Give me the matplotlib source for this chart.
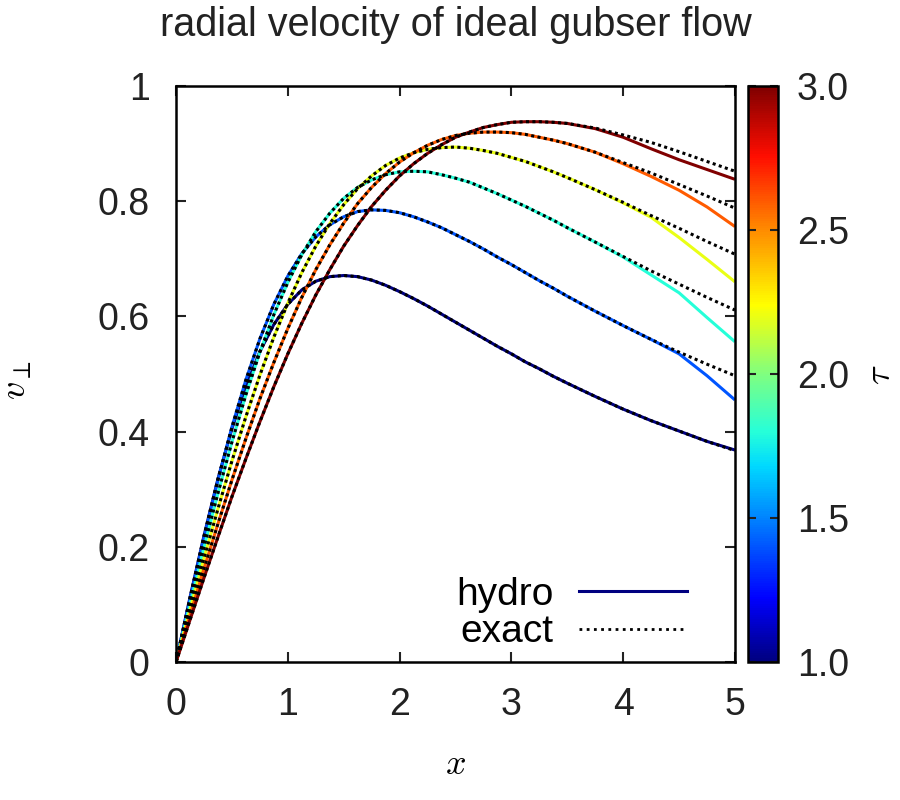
import matplotlib
matplotlib.use("Agg")
import matplotlib.pyplot as plt
from matplotlib.colors import Normalize, LinearSegmentedColormap
from matplotlib.cm import ScalarMappable
from matplotlib.lines import Line2D

plt.rcParams['font.family'] = ['Liberation Sans', 'DejaVu Sans']
plt.rcParams['mathtext.fontset'] = 'cm'

# ---- data ----
x = [0.0, 0.125, 0.25, 0.375, 0.5, 0.625, 0.75, 0.875, 1.0, 1.125, 1.25, 1.375,
     1.5, 1.625, 1.75, 1.875, 2.0, 2.125, 2.25, 2.375, 2.5, 2.625, 2.75, 2.875,
     3.0, 3.125, 3.25, 3.375, 3.5, 3.75, 4.0, 4.25, 4.5, 4.75, 5.0]
taus = [1.0, 1.4, 1.8, 2.2, 2.6, 3.0]

exact_10 = [0, .112, .219, .318, .405, .479, .539, .586, .621, .646, .661, .669,
            .671, .669, .663, .654, .643, .631, .618, .604, .590, .576, .562, .548,
            .535, .521, .509, .496, .484, .461, .439, .419, .401, .383, .367]
exact_14 = [0, .110, .216, .316, .408, .490, .561, .621, .670, .709, .738, .759,
            .773, .782, .785, .784, .780, .773, .764, .754, .742, .730, .717, .703,
            .690, .676, .662, .649, .635, .609, .584, .560, .538, .517, .497]
exact_18 = [0, .101, .199, .293, .382, .464, .538, .603, .659, .707, .747, .779,
            .805, .824, .837, .846, .851, .852, .851, .846, .840, .833, .823, .813,
            .802, .791, .779, .767, .754, .729, .704, .679, .656, .633, .611]
exact_22 = [0, .091, .180, .266, .349, .426, .498, .564, .623, .676, .722, .761,
            .794, .822, .844, .862, .875, .884, .890, .893, .894, .892, .888, .883,
            .876, .869, .860, .851, .841, .820, .798, .775, .753, .730, .708]
exact_26 = [0, .081, .162, .240, .316, .388, .457, .520, .579, .633, .681, .724,
            .762, .796, .824, .848, .868, .884, .897, .907, .914, .918, .920, .920,
            .919, .916, .911, .906, .900, .885, .867, .849, .829, .809, .788]
exact_30 = [0, .073, .146, .217, .287, .353, .417, .478, .535, .588, .637, .681,
            .722, .758, .791, .819, .844, .865, .883, .898, .911, .920, .928, .933,
            .937, .938, .938, .937, .935, .927, .915, .902, .886, .869, .852]

# hydro follows the exact curve except for the last six points (x = 3.75 ... 5.0)
tail_10 = [.461, .439, .419, .401, .383, .368]
tail_14 = [.609, .584, .560, .535, .497, .455]
tail_18 = [.729, .703, .672, .641, .598, .556]
tail_22 = [.820, .797, .772, .737, .699, .660]
tail_26 = [.885, .865, .843, .819, .790, .756]
tail_30 = [.926, .911, .891, .872, .855, .838]

exact = [exact_10, exact_14, exact_18, exact_22, exact_26, exact_30]
tails = [tail_10, tail_14, tail_18, tail_22, tail_26, tail_30]
hydro = [e[:-len(t)] + t for e, t in zip(exact, tails)]

xticks = [0, 1, 2, 3, 4, 5]
xticklabels = ['0', '1', '2', '3', '4', '5']
yticks = [0, 0.2, 0.4, 0.6, 0.8, 1.0]
yticklabels = ['0', '0.2', '0.4', '0.6', '0.8', '1']
cticks = [1.0, 1.5, 2.0, 2.5, 3.0]
cticklabels = ['1.0', '1.5', '2.0', '2.5', '3.0']

# jet-like palette as in the reference
cmap = LinearSegmentedColormap.from_list('jetlike', [
    (0.00, (0.0, 0.0, 0.5)),
    (0.11, (0.0, 0.0, 1.0)),
    (0.34, (0.0, 0.85, 1.0)),
    (0.40, (0.15, 1.0, 0.85)),
    (0.50, (0.5, 1.0, 0.5)),
    (0.62, (1.0, 1.0, 0.0)),
    (0.75, (1.0, 0.55, 0.0)),
    (0.88, (1.0, 0.05, 0.0)),
    (1.00, (0.5, 0.0, 0.0)),
], N=256)
norm = Normalize(vmin=1.0, vmax=3.0)

# ---- figure ----
fig = plt.figure(figsize=(9, 8), dpi=100)
ax = fig.add_axes([0.1956, 0.1725, 0.621, 0.72])

for tau, h in zip(taus, hydro):
    ax.plot(x, h, color=cmap(norm(tau)), lw=2.2, solid_capstyle='butt', zorder=2)
for e in exact:
    ax.plot(x, e, color='black', lw=2.2, linestyle=(0, (1, 1.1)), zorder=3)

ax.set_xlim(0, 5)
ax.set_ylim(0, 1)
ax.set_xticks(xticks)
ax.set_xticklabels(xticklabels)
ax.set_yticks(yticks)
ax.set_yticklabels(yticklabels)
ax.tick_params(direction='in', length=7, width=1.5, top=True, right=True,
               labelsize=27, colors='#222222')
ax.tick_params(axis='x', pad=18)
ax.tick_params(axis='y', pad=19)
for s in ax.spines.values():
    s.set_linewidth(1.8)

handles = [Line2D([], [], color=cmap(0.0), lw=2.2),
           Line2D([], [], color='black', lw=2.0, linestyle=(0, (1, 1.6)))]
ax.legend(handles, ['hydro', 'exact'], loc='lower right', markerfirst=False,
          frameon=False, fontsize=28, handlelength=2.8, handletextpad=0.65,
          labelspacing=0.05, borderaxespad=0, borderpad=0,
          bbox_to_anchor=(0.915, 0.02))

fig.text(0.507, 0.969, 'radial velocity of ideal gubser flow', ha='center', va='center',
         fontsize=28.5, color='#222222')
fig.text(0.506, 0.044, r'$x$', ha='center', va='center', fontsize=26)
fig.text(0.018, 0.525, r'$v_\perp$', ha='center', va='center', fontsize=26, rotation=90)

cax = fig.add_axes([0.831, 0.1725, 0.033, 0.72])
sm = ScalarMappable(norm=norm, cmap=cmap)
cb = fig.colorbar(sm, cax=cax)
cb.set_ticks(cticks)
cb.set_ticklabels(cticklabels)
cb.outline.set_linewidth(1.8)
cax.tick_params(direction='in', length=6, width=1.5, left=True, right=True,
                labelleft=False, labelright=True, labelsize=27, pad=14, colors='#222222')
fig.text(0.978, 0.531, r'$\tau$', ha='center', va='center', fontsize=26, rotation=90)

fig.savefig('out.png', dpi=100)
